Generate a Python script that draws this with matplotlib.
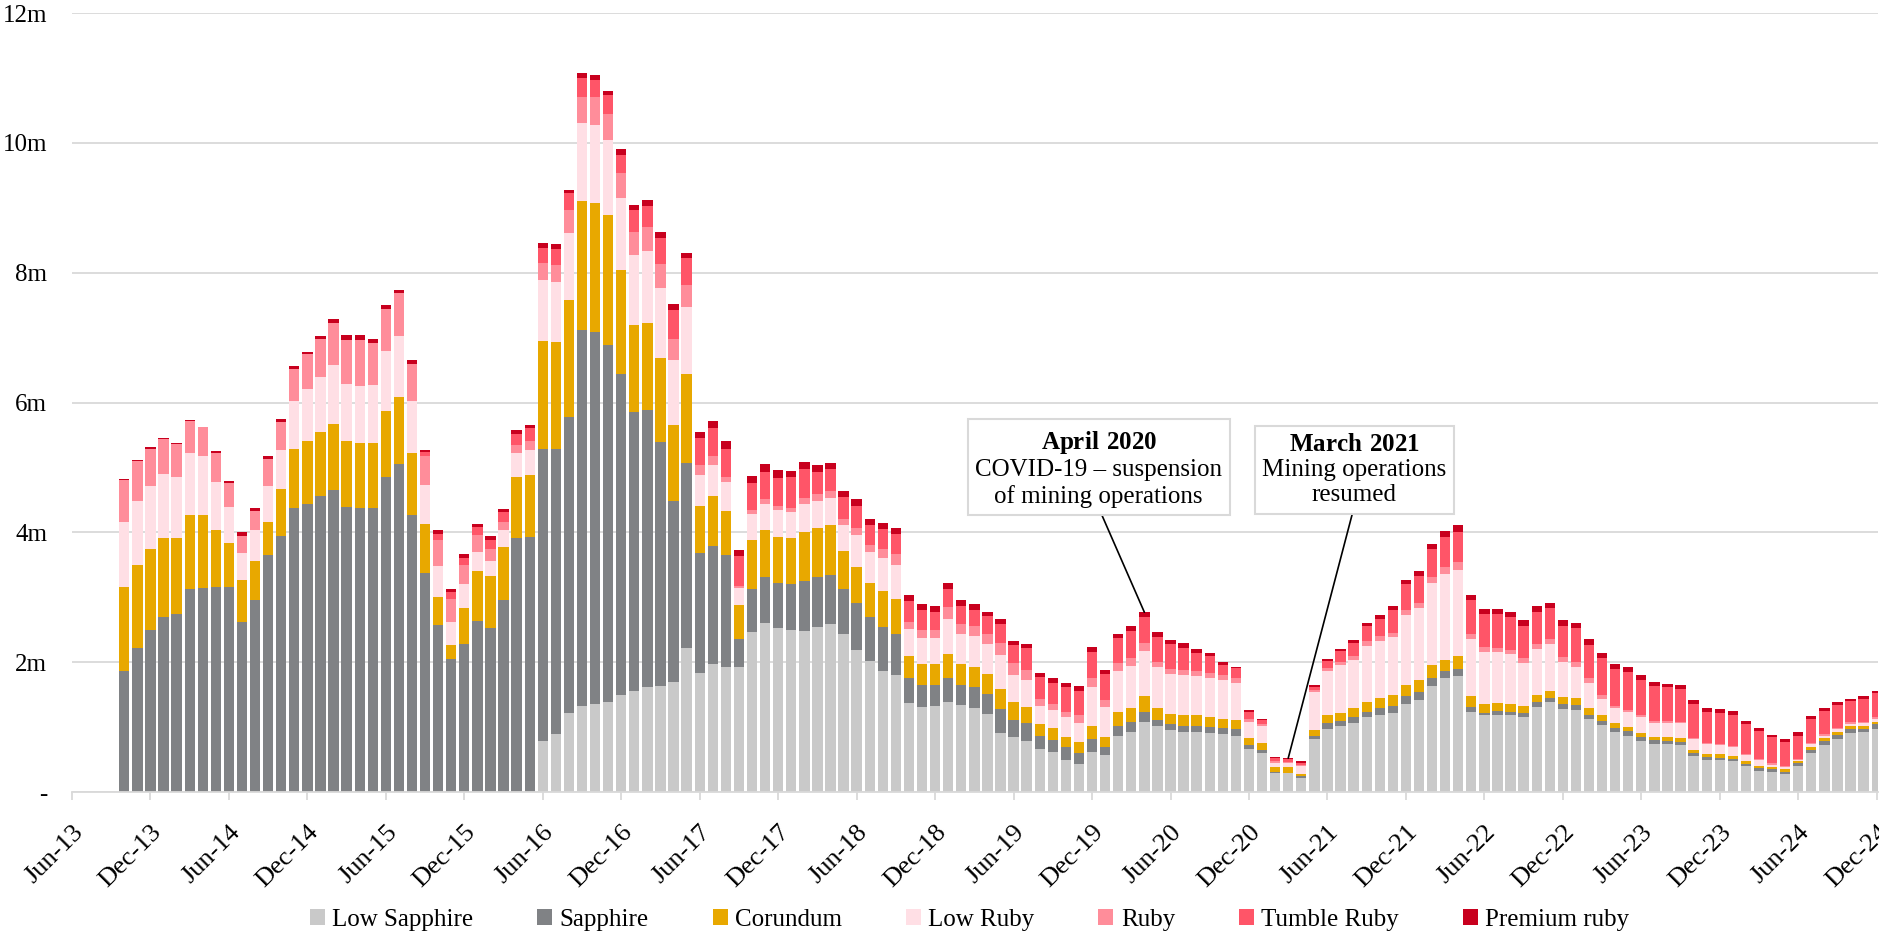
import numpy as np
import pandas as pd
import matplotlib
matplotlib.use("Agg")
import matplotlib.pyplot as plt
from matplotlib.transforms import ScaledTranslation

plt.rcParams['font.family'] = ['Liberation Serif', 'DejaVu Serif']
plt.rcParams['mathtext.fontset'] = 'custom'
plt.rcParams['mathtext.rm'] = 'Liberation Serif'
plt.rcParams['mathtext.bf'] = 'Liberation Serif:bold'

# monthly bars, Oct-13 .. Dec-24 (values in millions)
months = pd.date_range('2013-10-01', '2024-12-01', freq='MS')

low_sapphire = [
    0, 0, 0,
    0, 0, 0, 0, 0, 0, 0, 0, 0, 0, 0, 0,
    0, 0, 0, 0, 0, 0, 0, 0, 0, 0, 0, 0,
    0, 0, 0, 0, 0, 0.78, 0.90, 1.21, 1.32, 1.35, 1.38, 1.49,
    1.55, 1.61, 1.64, 1.69, 2.22, 1.83, 1.97, 1.93, 1.93, 2.47, 2.60, 2.52,
    2.49, 2.48, 2.54, 2.59, 2.44, 2.19, 2.02, 1.87, 1.80, 1.37, 1.31, 1.32,
    1.38, 1.34, 1.30, 1.20, 0.91, 0.84, 0.78, 0.67, 0.62, 0.50, 0.43, 0.62,
    0.57, 0.87, 0.92, 1.08, 1.01, 0.95, 0.93, 0.92, 0.91, 0.89, 0.87, 0.66,
    0.60, 0.30, 0.29, 0.22, 0.81, 0.97, 1.02, 1.06, 1.15, 1.19, 1.22, 1.36,
    1.42, 1.64, 1.75, 1.78, 1.24, 1.18, 1.19, 1.19, 1.16, 1.31, 1.38, 1.28,
    1.27, 1.12, 1.03, 0.92, 0.87, 0.79, 0.74, 0.74, 0.73, 0.55, 0.50, 0.49,
    0.47, 0.40, 0.33, 0.31, 0.28, 0.40, 0.60, 0.73, 0.82, 0.91, 0.92, 0.97,
]
sapphire = [
    1.87, 2.22, 2.49,
    2.70, 2.74, 3.13, 3.15, 3.16, 3.16, 2.62, 2.95, 3.65, 3.94, 4.37, 4.44,
    4.56, 4.65, 4.39, 4.37, 4.38, 4.85, 5.06, 4.27, 3.38, 2.58, 2.05, 2.28,
    2.63, 2.52, 2.95, 3.91, 3.93, 4.51, 4.38, 4.56, 5.79, 5.74, 5.50, 4.95,
    4.30, 4.28, 3.75, 2.80, 2.85, 1.85, 1.82, 1.72, 0.42, 0.66, 0.71, 0.70,
    0.72, 0.77, 0.77, 0.76, 0.69, 0.72, 0.67, 0.67, 0.64, 0.39, 0.34, 0.33,
    0.38, 0.31, 0.31, 0.31, 0.37, 0.27, 0.28, 0.19, 0.18, 0.19, 0.17, 0.19,
    0.12, 0.15, 0.16, 0.16, 0.10, 0.09, 0.09, 0.09, 0.09, 0.09, 0.10, 0.06,
    0.04, 0.01, 0.01, 0.02, 0.06, 0.09, 0.08, 0.09, 0.09, 0.11, 0.11, 0.12,
    0.12, 0.11, 0.11, 0.12, 0.07, 0.04, 0.06, 0.05, 0.05, 0.07, 0.07, 0.07,
    0.07, 0.07, 0.07, 0.07, 0.07, 0.06, 0.06, 0.05, 0.04, 0.05, 0.04, 0.04,
    0.04, 0.03, 0.04, 0.04, 0.03, 0.04, 0.04, 0.05, 0.06, 0.06, 0.05, 0.07,
]
corundum = [
    1.29, 1.27, 1.25,
    1.22, 1.17, 1.14, 1.11, 0.88, 0.67, 0.64, 0.61, 0.51, 0.72, 0.92, 0.96,
    0.99, 1.02, 1.01, 1.00, 1.00, 1.02, 1.02, 0.95, 0.75, 0.43, 0.21, 0.56,
    0.78, 0.80, 0.82, 0.95, 0.96, 1.66, 1.65, 1.81, 2.00, 1.99, 2.01, 1.60,
    1.34, 1.33, 1.30, 1.17, 1.37, 0.73, 0.77, 0.68, 0.53, 0.75, 0.72, 0.71,
    0.71, 0.76, 0.75, 0.76, 0.59, 0.56, 0.53, 0.55, 0.53, 0.34, 0.32, 0.32,
    0.36, 0.32, 0.31, 0.31, 0.31, 0.28, 0.25, 0.19, 0.18, 0.15, 0.17, 0.20,
    0.15, 0.22, 0.21, 0.24, 0.19, 0.16, 0.17, 0.17, 0.16, 0.15, 0.14, 0.11,
    0.12, 0.07, 0.08, 0.04, 0.09, 0.12, 0.12, 0.14, 0.15, 0.15, 0.17, 0.17,
    0.18, 0.20, 0.17, 0.20, 0.17, 0.13, 0.12, 0.12, 0.11, 0.12, 0.11, 0.12,
    0.11, 0.10, 0.08, 0.07, 0.06, 0.06, 0.05, 0.06, 0.06, 0.04, 0.05, 0.05,
    0.04, 0.05, 0.03, 0.04, 0.04, 0.03, 0.05, 0.05, 0.05, 0.04, 0.05, 0.04,
]
low_ruby = [
    1.00, 1.00, 0.98,
    0.98, 0.94, 0.95, 0.91, 0.74, 0.56, 0.42, 0.47, 0.56, 0.61, 0.74, 0.81,
    0.85, 0.91, 0.88, 0.89, 0.89, 0.93, 0.95, 0.80, 0.60, 0.47, 0.36, 0.36,
    0.29, 0.24, 0.27, 0.36, 0.38, 0.93, 0.93, 1.03, 1.19, 1.20, 1.16, 1.11,
    1.08, 1.12, 1.08, 0.99, 1.03, 0.47, 0.48, 0.44, 0.27, 0.40, 0.41, 0.42,
    0.40, 0.43, 0.43, 0.42, 0.40, 0.49, 0.47, 0.51, 0.53, 0.41, 0.40, 0.40,
    0.55, 0.47, 0.48, 0.46, 0.52, 0.41, 0.42, 0.28, 0.29, 0.31, 0.30, 0.60,
    0.47, 0.63, 0.65, 0.69, 0.63, 0.62, 0.62, 0.60, 0.60, 0.60, 0.57, 0.25,
    0.25, 0.07, 0.06, 0.12, 0.58, 0.68, 0.74, 0.74, 0.86, 0.88, 0.88, 1.08,
    1.11, 1.27, 1.33, 1.32, 0.87, 0.81, 0.79, 0.76, 0.67, 0.71, 0.72, 0.53,
    0.48, 0.39, 0.25, 0.23, 0.24, 0.24, 0.22, 0.22, 0.23, 0.17, 0.15, 0.14,
    0.14, 0.09, 0.10, 0.03, 0.03, 0.03, 0.05, 0.04, 0.04, 0.04, 0.04, 0.05,
]
ruby = [
    0.65, 0.61, 0.57,
    0.54, 0.51, 0.50, 0.45, 0.44, 0.37, 0.27, 0.30, 0.41, 0.43, 0.49, 0.53,
    0.58, 0.65, 0.69, 0.71, 0.64, 0.64, 0.65, 0.58, 0.45, 0.40, 0.35, 0.29,
    0.26, 0.18, 0.12, 0.13, 0.13, 0.27, 0.26, 0.36, 0.40, 0.42, 0.40, 0.39,
    0.36, 0.36, 0.36, 0.33, 0.34, 0.16, 0.14, 0.08, 0.03, 0.07, 0.07, 0.06,
    0.06, 0.09, 0.10, 0.10, 0.09, 0.11, 0.12, 0.15, 0.16, 0.11, 0.12, 0.12,
    0.18, 0.15, 0.16, 0.16, 0.18, 0.18, 0.15, 0.10, 0.09, 0.09, 0.11, 0.15,
    0.10, 0.12, 0.12, 0.12, 0.08, 0.08, 0.07, 0.09, 0.08, 0.07, 0.08, 0.04,
    0.03, 0.02, 0.02, 0.01, 0.03, 0.05, 0.05, 0.07, 0.07, 0.07, 0.07, 0.07,
    0.08, 0.09, 0.11, 0.13, 0.09, 0.07, 0.06, 0.07, 0.07, 0.07, 0.07, 0.08,
    0.08, 0.07, 0.07, 0.03, 0.03, 0.03, 0.02, 0.02, 0.02, 0.02, 0.01, 0.02,
    0.02, 0.02, 0.01, 0.02, 0.02, 0.01, 0.01, 0.03, 0.02, 0.03, 0.02, 0.03,
]
tumble_ruby = [
    0, 0, 0,
    0, 0, 0, 0, 0, 0, 0, 0, 0, 0, 0, 0,
    0, 0, 0, 0, 0, 0, 0, 0, 0.06, 0.10, 0.11, 0.12,
    0.12, 0.14, 0.15, 0.16, 0.21, 0.23, 0.25, 0.25, 0.30, 0.27, 0.28, 0.28,
    0.33, 0.33, 0.40, 0.45, 0.41, 0.41, 0.43, 0.44, 0.45, 0.41, 0.42, 0.43,
    0.47, 0.44, 0.34, 0.34, 0.33, 0.33, 0.31, 0.30, 0.31, 0.32, 0.32, 0.29,
    0.28, 0.28, 0.25, 0.27, 0.30, 0.28, 0.34, 0.34, 0.32, 0.38, 0.38, 0.40,
    0.41, 0.38, 0.42, 0.40, 0.38, 0.38, 0.34, 0.27, 0.25, 0.16, 0.15, 0.11,
    0.07, 0.05, 0.05, 0.04, 0.05, 0.11, 0.16, 0.20, 0.24, 0.27, 0.35, 0.40,
    0.42, 0.44, 0.46, 0.46, 0.51, 0.51, 0.52, 0.50, 0.50, 0.50, 0.48, 0.48,
    0.52, 0.52, 0.57, 0.57, 0.58, 0.55, 0.55, 0.52, 0.51, 0.52, 0.49, 0.47,
    0.48, 0.45, 0.43, 0.40, 0.37, 0.36, 0.37, 0.35, 0.35, 0.32, 0.35, 0.36,
]
premium_ruby = [
    0.01, 0.02, 0.02,
    0.02, 0.02, 0.01, 0.01, 0.03, 0.03, 0.05, 0.04, 0.04, 0.04, 0.04, 0.04,
    0.05, 0.06, 0.07, 0.07, 0.07, 0.06, 0.06, 0.06, 0.03, 0.05, 0.05, 0.06,
    0.05, 0.06, 0.05, 0.07, 0.05, 0.07, 0.07, 0.06, 0.08, 0.08, 0.07, 0.08,
    0.08, 0.09, 0.09, 0.09, 0.09, 0.09, 0.10, 0.11, 0.10, 0.11, 0.12, 0.12,
    0.10, 0.11, 0.11, 0.10, 0.10, 0.11, 0.09, 0.10, 0.09, 0.09, 0.09, 0.09,
    0.09, 0.08, 0.08, 0.07, 0.07, 0.07, 0.06, 0.07, 0.07, 0.06, 0.07, 0.07,
    0.06, 0.07, 0.08, 0.08, 0.07, 0.06, 0.07, 0.07, 0.05, 0.05, 0.02, 0.03,
    0.02, 0.02, 0.01, 0.02, 0.03, 0.03, 0.04, 0.04, 0.04, 0.06, 0.07, 0.07,
    0.07, 0.07, 0.09, 0.10, 0.08, 0.08, 0.08, 0.09, 0.09, 0.08, 0.08, 0.09,
    0.07, 0.08, 0.07, 0.08, 0.07, 0.07, 0.05, 0.06, 0.06, 0.06, 0.06, 0.07,
    0.06, 0.05, 0.05, 0.04, 0.05, 0.05, 0.05, 0.05, 0.05, 0.04, 0.05, 0.04,
]

series = [
    ('Low Sapphire', low_sapphire, '#C9C9C9'),
    ('Sapphire', sapphire, '#808285'),
    ('Corundum', corundum, '#E8A800'),
    ('Low Ruby', low_ruby, '#FFDFE5'),
    ('Ruby', ruby, '#FF8D9A'),
    ('Tumble Ruby', tumble_ruby, '#FF5568'),
    ('Premium ruby', premium_ruby, '#C8001E'),
]

# x position = months since Jun-13
x = (months.year - 2013) * 12 + months.month - 6

fig = plt.figure(figsize=(18.79, 9.35), dpi=100)
ax = fig.add_axes([72 / 1879, 1 - 792 / 935, (1878 - 72) / 1879, (792 - 13) / 935])

bottom = np.zeros(len(months))
for name, vals, col in series:
    vals = np.array(vals)
    ax.bar(x, vals, bottom=bottom, width=0.79, color=col, label=name, linewidth=0)
    bottom += vals

ax.set_xlim(0, 138.1)
ax.set_ylim(0, 12)

tick_dates = pd.date_range('2013-06-01', '2024-12-01', freq='6MS')
ax.set_xticks(np.arange(0, 139, 6))
ax.set_xticklabels(tick_dates.strftime('%b-%y'), rotation=45, ha='right',
                   va='top', rotation_mode='anchor', fontsize=19)
# nudge labels a few pixels right like the original
for lbl in ax.get_xticklabels():
    lbl.set_transform(lbl.get_transform() + ScaledTranslation(3 / 100, 0, fig.dpi_scale_trans))
ax.set_yticks(np.arange(0, 13, 2))
ax.set_yticklabels(['-', '2m', '4m', '6m', '8m', '10m', '12m'], fontsize=18)

ax.grid(axis='y', color='#D9D9D9', linewidth=1.3)
ax.set_axisbelow(True)
for s in ['left', 'right', 'top']:
    ax.spines[s].set_visible(False)
ax.spines['bottom'].set_color('#D9D9D9')
ax.spines['bottom'].set_linewidth(1.3)
ax.tick_params(axis='x', length=6, color='#D9D9D9', width=1.3, pad=15)
ax.tick_params(axis='y', length=0, pad=18)

totals = bottom
i_apr20 = int(np.where(months == '2020-04-01')[0][0])
i_mar21 = int(np.where(months == '2021-03-01')[0][0])

box = dict(boxstyle='square,pad=0.3', fc='white', ec='#D9D9D9', lw=1.5)
arrow = dict(arrowstyle='-', color='black', lw=1.2, relpos=(0.5, 0), shrinkA=0, shrinkB=0)
ax.annotate(r'$\mathbf{April\ 2020}$' + '\nCOVID-19 – suspension\nof mining operations',
            xy=(x[i_apr20], totals[i_apr20]), xytext=(78.5, 4.99),
            ha='center', va='center', fontsize=18, bbox=box, arrowprops=arrow,
            linespacing=1.2)
ax.annotate(r'$\mathbf{March\ 2021}$' + '\nMining operations\nresumed',
            xy=(x[i_mar21], totals[i_mar21]), xytext=(98.05, 4.96),
            ha='center', va='center', fontsize=18, bbox=box, arrowprops=arrow,
            linespacing=1.2)

fig.legend(loc='center', bbox_to_anchor=(0.516, 0.016), ncol=7, frameon=False,
           fontsize=18, handlelength=0.6, handleheight=0.6, handletextpad=0.3,
           columnspacing=2.55)

fig.savefig('out.png', dpi=100)
